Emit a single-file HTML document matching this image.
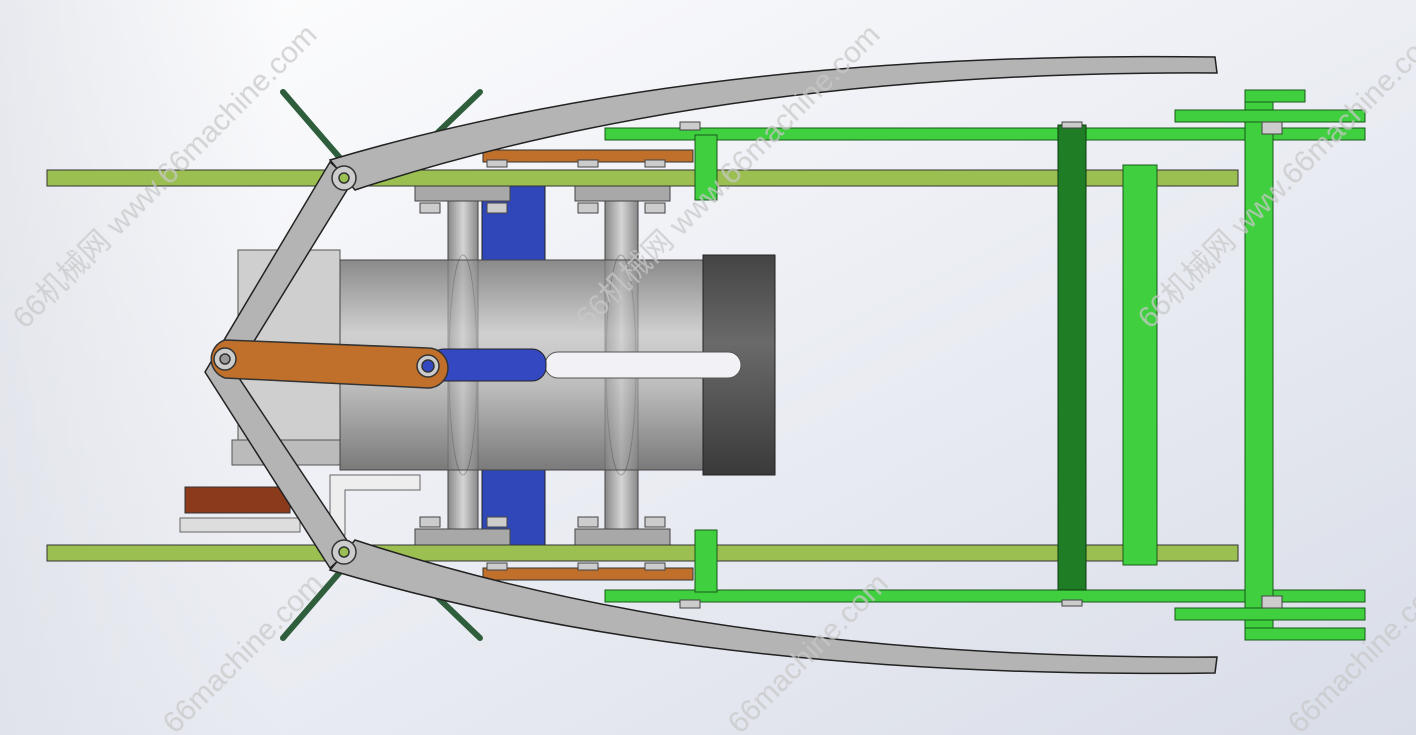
<!DOCTYPE html>
<html><head><meta charset="utf-8"><style>
html,body{margin:0;padding:0;width:1416px;height:735px;overflow:hidden}
svg{display:block}
</style></head><body>
<svg width="1416" height="735" viewBox="0 0 1416 735" xmlns="http://www.w3.org/2000/svg">
<defs>
<linearGradient id="bg" x1="0" y1="0" x2="1" y2="1">
<stop offset="0" stop-color="#ffffff"/><stop offset="0.5" stop-color="#eceef4"/><stop offset="1" stop-color="#d9dde8"/>
</linearGradient>
<linearGradient id="bgl" x1="0" y1="0" x2="1" y2="0">
<stop offset="0" stop-color="#d8dbe4" stop-opacity="0.6"/><stop offset="0.2" stop-color="#d8dbe4" stop-opacity="0"/>
</linearGradient>
<linearGradient id="cyl" x1="0" y1="0" x2="0" y2="1">
<stop offset="0" stop-color="#8a8a8a"/><stop offset="0.35" stop-color="#d0d0d0"/><stop offset="0.6" stop-color="#bdbdbd"/><stop offset="1" stop-color="#7a7a7a"/>
</linearGradient>
<linearGradient id="cap" x1="0" y1="0" x2="0" y2="1">
<stop offset="0" stop-color="#444"/><stop offset="0.4" stop-color="#6a6a6a"/><stop offset="1" stop-color="#3a3a3a"/>
</linearGradient>
<linearGradient id="post" x1="0" y1="0" x2="1" y2="0">
<stop offset="0" stop-color="#888"/><stop offset="0.5" stop-color="#d5d5d5"/><stop offset="1" stop-color="#888"/>
</linearGradient>
</defs>
<rect width="1416" height="735" fill="url(#bg)"/>
<rect width="1416" height="735" fill="url(#bgl)"/>

<g stroke="#2f5e3c" stroke-width="6" stroke-linecap="round">
<line x1="283" y1="92" x2="340" y2="158"/><line x1="480" y1="92" x2="430" y2="140"/>
<line x1="283" y1="638" x2="340" y2="572"/><line x1="480" y1="638" x2="430" y2="590"/>
</g>

<rect x="238" y="250" width="102" height="215" fill="#cfcfcf" stroke="#555"/>
<rect x="232" y="440" width="110" height="25" fill="#bbb" stroke="#555"/>
<rect x="185" y="487" width="105" height="26" fill="#8b3a1c" stroke="#333"/>
<rect x="180" y="518" width="120" height="14" fill="#ddd" stroke="#666"/>
<path d="M330 475 H420 V490 H345 V535 H330 Z" fill="#eee" stroke="#666"/>

<rect x="448" y="185" width="30" height="360" fill="url(#post)" stroke="#444"/>
<rect x="605" y="185" width="33" height="360" fill="url(#post)" stroke="#444"/>
<rect x="482" y="185" width="63" height="75" fill="#2f47b8" stroke="#222"/>
<rect x="482" y="470" width="63" height="75" fill="#2f47b8" stroke="#222"/>

<rect x="340" y="260" width="365" height="210" fill="url(#cyl)" stroke="#444"/>
<g opacity="0.45">
<rect x="448" y="260" width="30" height="210" fill="url(#post)" stroke="#555"/>
<rect x="605" y="260" width="33" height="210" fill="url(#post)" stroke="#555"/>
<ellipse cx="463" cy="365" rx="14" ry="110" fill="none" stroke="#666"/>
<ellipse cx="621" cy="365" rx="15" ry="110" fill="none" stroke="#666"/>
</g>
<rect x="703" y="255" width="72" height="220" fill="url(#cap)" stroke="#222"/>
<rect x="545" y="352" width="196" height="26" rx="13" fill="#f2f2f6" stroke="#555"/>
<rect x="430" y="349" width="116" height="32" rx="14" fill="#3448c2" stroke="#222"/>

<g fill="#a8a8a8" stroke="#444">
<rect x="415" y="185" width="95" height="16"/><rect x="575" y="185" width="95" height="16"/>
<rect x="415" y="529" width="95" height="16"/><rect x="575" y="529" width="95" height="16"/>
</g>
<g fill="#c0702a" stroke="#333">
<rect x="483" y="150" width="210" height="12"/><rect x="483" y="568" width="210" height="12"/>
</g>

<g fill="#9cbf52" stroke="#333">
<rect x="47" y="170" width="1191" height="16"/><rect x="47" y="545" width="1191" height="16"/>
</g>

<g fill="#3fcf3f" stroke="#1a5a1a">
<rect x="605" y="128" width="760" height="12"/><rect x="605" y="590" width="760" height="12"/>
<rect x="695" y="135" width="22" height="65"/><rect x="695" y="530" width="22" height="62"/>
<rect x="1123" y="165" width="34" height="400"/>
<rect x="1245" y="90" width="28" height="550"/>
<rect x="1175" y="110" width="190" height="12"/><rect x="1175" y="608" width="190" height="12"/>
<rect x="1245" y="90" width="60" height="12"/><rect x="1245" y="628" width="120" height="12"/>
</g>
<rect x="1058" y="125" width="28" height="465" fill="#1f7d25" stroke="#0d3a10"/>

<g fill="#b4b4b4" stroke="#222" stroke-width="1.5">
<path d="M330 160 Q700 50 1215 57 L1217 73 Q720 70 355 190 Z"/>
<path d="M330 570 Q700 680 1215 673 L1217 657 Q720 660 355 540 Z"/>
<path d="M330 162 L352 182 L235 372 L352 548 L330 568 L205 372 Z"/>
</g>
<path d="M225 340 L428 348 A20 20 0 0 1 428 388 L225 378 A20 20 0 0 1 225 340 Z" fill="#c0702a" stroke="#333" stroke-width="1.5"/>
<g stroke="#333" stroke-width="1.5">
<circle cx="225" cy="359" r="11" fill="#ccc"/><circle cx="428" cy="366" r="11" fill="#ccc"/>
<circle cx="428" cy="366" r="6" fill="#3448c2"/><circle cx="225" cy="359" r="5" fill="#999"/>
<circle cx="344" cy="178" r="12" fill="#ccc"/><circle cx="344" cy="178" r="5" fill="#9cbf52"/>
<circle cx="344" cy="552" r="12" fill="#ccc"/><circle cx="344" cy="552" r="5" fill="#9cbf52"/>
</g>
<g fill="#ccc" stroke="#444">
<rect x="487" y="160" width="20" height="7"/><rect x="578" y="160" width="20" height="7"/><rect x="645" y="160" width="20" height="7"/>
<rect x="420" y="203" width="20" height="10"/><rect x="487" y="203" width="20" height="10"/><rect x="578" y="203" width="20" height="10"/><rect x="645" y="203" width="20" height="10"/>
<rect x="420" y="517" width="20" height="10"/><rect x="487" y="517" width="20" height="10"/><rect x="578" y="517" width="20" height="10"/><rect x="645" y="517" width="20" height="10"/>
<rect x="487" y="563" width="20" height="7"/><rect x="578" y="563" width="20" height="7"/><rect x="645" y="563" width="20" height="7"/>
<rect x="680" y="122" width="20" height="8"/><rect x="680" y="600" width="20" height="8"/>
<rect x="1062" y="122" width="20" height="6"/><rect x="1062" y="600" width="20" height="6"/>
<rect x="1262" y="122" width="20" height="12"/><rect x="1262" y="596" width="20" height="12"/>
</g>

<g font-family="Liberation Sans, 'Noto Sans CJK SC', sans-serif" font-size="30" fill="#c8c8c8" opacity="0.75">
<text transform="translate(25,330) rotate(-45)">66机械网 www.66machine.com</text>
<text transform="translate(588,330) rotate(-45)">66机械网 www.66machine.com</text>
<text transform="translate(1150,330) rotate(-45)">66机械网 www.66machine.com</text>
<text transform="translate(175,735) rotate(-45)">66machine.com</text>
<text transform="translate(740,735) rotate(-45)">66machine.com</text>
<text transform="translate(1300,735) rotate(-45)">66machine.com</text>
</g>
</svg>
</body></html>
